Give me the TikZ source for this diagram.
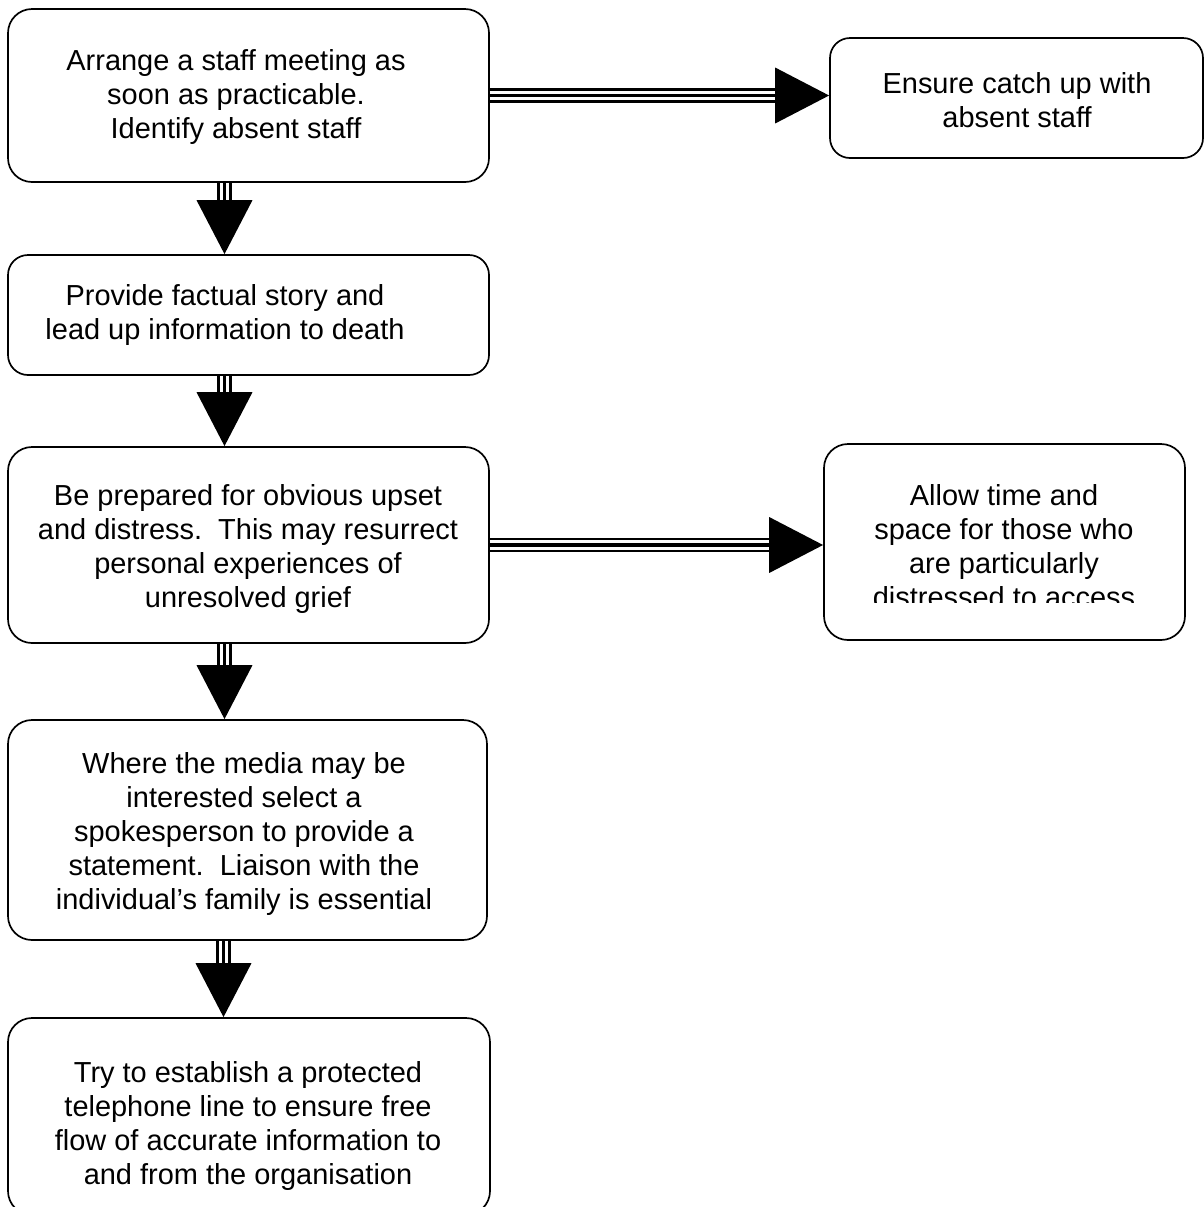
\documentclass[tikz,border=0pt]{standalone}
\usepackage{fontspec}
\setmainfont{Liberation Sans}
\usepackage{tikz}
\usetikzlibrary{arrows.meta,fit,calc}

\begin{document}
\begin{tikzpicture}[x=0.25mm,y=-0.25mm,
box/.style={draw,line width=1.2pt,rounded corners=6mm,inner sep=0pt},
txt/.style={align=center,inner sep=0pt,anchor=north,font=\fontsize{20.6}{24.2}\selectfont},
flow/.style={line width=2.8pt,-{Triangle[length=38.4pt,width=39.1pt]},
  preaction={draw,-,line width=1.9pt,double,double distance=6.8pt,shorten >=38pt}}]
\clip (0,0) rectangle (1204,1207);

\node (b1) [box,fit={(8,9) (489,182)}] {};
\node (b2) [box,rounded corners=5mm,fit={(8,255) (489,375)}] {};
\node (b3) [box,fit={(8,447) (489,643)}] {};
\node (b4) [box,fit={(8,720) (487,940)}] {};
\node (b5) [box,fit={(8,1018) (490,1215)}] {};
\node (r1) [box,rounded corners=5mm,fit={(830,38) (1203,158)}] {};
\node (r2) [box,fit={(824,444) (1185,640)}] {};

\node (t1) at (236,49) [txt] {Arrange a staff meeting as\\soon as practicable.\\Identify absent staff};
\node (t2) at (225,284) [txt] {Provide factual story and\\lead up information to death};
\node (t3) at (248,484) [txt] {Be prepared for obvious upset\\and distress.\ \ This may resurrect\\personal experiences of\\unresolved grief};
\node (t4) at (244,752) [txt] {Where the media may be\\interested select a\\spokesperson to provide a\\statement.\ \ Liaison with the\\individual’s family is essential};
\node (t5) at (248,1061) [txt] {Try to establish a protected\\telephone line to ensure free\\flow of accurate information to\\and from the organisation};
\node (s1) at (1017,72) [txt] {Ensure catch up with\\absent staff};
\begin{scope}
\clip (824,444) rectangle (1185,602);
\node (s2) at (1004,484) [txt] {Allow time and\\space for those who\\are particularly\\distressed to access};
\end{scope}

\draw[flow] ([xshift=-6mm]b1.south) -- ([xshift=-6mm]b1.south |- b2.north);
\draw[flow] ([xshift=-6mm]b2.south) -- ([xshift=-6mm]b2.south |- b3.north);
\draw[flow] ([xshift=-6mm]b3.south) -- ([xshift=-6mm]b3.south |- b4.north);
\draw[flow] ([xshift=-6mm]b4.south) -- ([xshift=-6mm]b4.south |- b5.north);

\draw[flow] (b1.east) -- (b1.east -| r1.west);
\draw[flow] (b3.east) -- (b3.east -| r2.west);
\end{tikzpicture}
\end{document}
